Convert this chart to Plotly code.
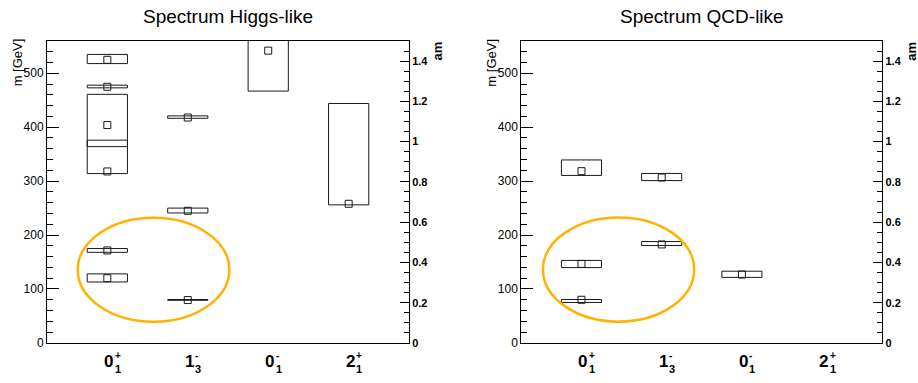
import plotly.graph_objects as go

# ---------------- data ----------------
state_main = ["0", "1", "0", "2"]
state_sup = ["+", "-", "-", "+"]
state_sub = ["1", "3", "1", "1"]

higgs_cat = [0, 0, 0, 0, 0, 0, 1, 1, 1, 2, 3]
higgs_lo = [518, 473, 364, 314, 168, 113, 416.5, 241, 79, 467, 256]
higgs_hi = [535, 478, 461, 376, 175, 128, 421, 250, 80.5, 620, 444]
higgs_mean = [525, 475, 404, 318, 171.5, 120, 418, 245, 79.5, 542, 258]

qcd_cat = [0, 0, 0, 1, 1, 2]
qcd_lo = [310.6, 139.7, 75, 301, 180.6, 121.5]
qcd_hi = [339.3, 153, 80.5, 314.3, 188, 133]
qcd_mean = [318.5, 146.5, 80, 306.7, 182.6, 126.8]

titles = ["Spectrum Higgs-like", "Spectrum QCD-like"]

# highlight ellipses (x in bin units, y in GeV)
ellipses = [(-0.368, 1.517, 39.4, 232.2), (-0.48, 1.405, 39.4, 232.8)]

M_RANGE = [0, 560]
AM_RANGE = [0, 1.5]
X_RANGE = [-0.75, 3.75]
HALF_W = 0.25

W = 918
HF = 383  # figure height
FONT = "Liberation Sans, Arial, Helvetica, sans-serif"
ORANGE = "#FFB300"
INK = "#1a1a1a"


def py(ys):
    """screen-pixel y -> paper fraction"""
    return 1 - ys / HF


def box_path(cats, lo, hi):
    xs, ys = [], []
    for c, l, h in zip(cats, lo, hi):
        xs += [c - HALF_W, c + HALF_W, c + HALF_W, c - HALF_W, c - HALF_W, None]
        ys += [l, l, h, h, l, None]
    return xs, ys


fig = go.Figure()

panels = [
    (higgs_cat, higgs_lo, higgs_hi, higgs_mean, "x", "y", "y2"),
    (qcd_cat, qcd_lo, qcd_hi, qcd_mean, "x2", "y3", "y4"),
]

for cats, lo, hi, mean, xa, ya, ya2 in panels:
    bx, by = box_path(cats, lo, hi)
    fig.add_trace(go.Scatter(x=bx, y=by, mode="lines", xaxis=xa, yaxis=ya,
                             line=dict(color=INK, width=1), showlegend=False,
                             hoverinfo="skip"))
    fig.add_trace(go.Scatter(x=cats, y=mean, mode="markers", xaxis=xa, yaxis=ya,
                             marker=dict(symbol="square-open", size=7,
                                         line=dict(color=INK, width=1), color=INK),
                             showlegend=False, cliponaxis=True))
    fig.add_trace(go.Scatter(x=[], y=[], xaxis=xa, yaxis=ya2, showlegend=False))

xdom_l = [47 / W, 409 / W]
xdom_r = [521.3 / W, 882.3 / W]
ydom = [py(349.3), py(41.7)]

xcommon = dict(range=X_RANGE, showline=True, linecolor="black", linewidth=1,
               mirror=True, ticks="", showticklabels=False, showgrid=False,
               zeroline=False, fixedrange=True)
ylcommon = dict(range=M_RANGE, domain=ydom, showline=True, linecolor="black",
                linewidth=1, ticks="inside", ticklen=12, tickcolor="black",
                tickmode="linear", tick0=0, dtick=100, showgrid=False,
                zeroline=False, tickfont=dict(family=FONT, size=12, color="black"),
                minor=dict(ticks="inside", ticklen=6, dtick=20, tickcolor="black",
                           showgrid=False))
yrcommon = dict(range=AM_RANGE, domain=ydom, side="right", showline=True,
                linecolor="black", linewidth=1, ticks="inside", ticklen=9,
                tickcolor="black", tickmode="linear", tick0=0, dtick=0.2,
                showgrid=False, zeroline=False,
                tickfont=dict(family=FONT, size=11, color="black", weight="bold"),
                minor=dict(ticks="inside", ticklen=5, dtick=0.05, tickcolor="black",
                           showgrid=False))

fig.update_layout(
    width=W, height=HF, margin=dict(l=0, r=0, t=0, b=0),
    paper_bgcolor="white", plot_bgcolor="white",
    xaxis=dict(domain=xdom_l, anchor="y", **xcommon),
    xaxis2=dict(domain=xdom_r, anchor="y3", **xcommon),
    yaxis=dict(anchor="x", **ylcommon),
    yaxis2=dict(anchor="x", overlaying="y", **yrcommon),
    yaxis3=dict(anchor="x2", **ylcommon),
    yaxis4=dict(anchor="x2", overlaying="y3", **yrcommon),
    showlegend=False,
)

# ellipses
for (x0, x1, y0, y1), xa, ya in zip(ellipses, ["x", "x2"], ["y", "y3"]):
    fig.add_shape(type="circle", xref=xa, yref=ya, x0=x0, x1=x1, y0=y0, y1=y1,
                  line=dict(color=ORANGE, width=2.5), layer="above")

ann = []
# titles
for t, dom in zip(titles, [xdom_l, xdom_r]):
    ann.append(dict(text=t, xref="paper", yref="paper", x=(dom[0] + dom[1]) / 2,
                    y=py(17), xanchor="center", yanchor="middle",
                    showarrow=False, font=dict(family=FONT, size=19, color="black")))
# axis titles
for dom in [xdom_l, xdom_r]:
    ann.append(dict(text="m [GeV]", xref="paper", yref="paper",
                    x=dom[0] - 29.5 / W, y=py(64), textangle=-90,
                    xanchor="center", yanchor="middle", showarrow=False,
                    font=dict(family=FONT, size=13, color="black")))
    ann.append(dict(text="<b>am</b>", xref="paper", yref="paper",
                    x=dom[1] + 29 / W, y=py(52.5), textangle=-90,
                    xanchor="center", yanchor="middle", showarrow=False,
                    font=dict(family=FONT, size=13, color="black")))
# category labels (digit with stacked super/subscript)
for xa in ["x", "x2"]:
    for i, (m, sp, sb) in enumerate(zip(state_main, state_sup, state_sub)):
        ann.append(dict(text="<b>%s</b>" % m, xref=xa, yref="paper", x=i,
                        y=py(368.3), xshift=1.5, xanchor="center",
                        yanchor="middle", showarrow=False, borderpad=0,
                        font=dict(family=FONT, size=17, color="black")))
        ann.append(dict(text="<b>%s</b>" % sp, xref=xa, yref="paper", x=i,
                        y=py(362.5), xshift=6.5, xanchor="left",
                        yanchor="middle", showarrow=False, borderpad=0,
                        font=dict(family=FONT, size=10, color="black")))
        ann.append(dict(text="<b>%s</b>" % sb, xref=xa, yref="paper", x=i,
                        y=py(375.8), xshift=6.5, xanchor="left",
                        yanchor="middle", showarrow=False, borderpad=0,
                        font=dict(family=FONT, size=11, color="black")))
fig.update_layout(annotations=ann)

fig.write_html("out.html")
